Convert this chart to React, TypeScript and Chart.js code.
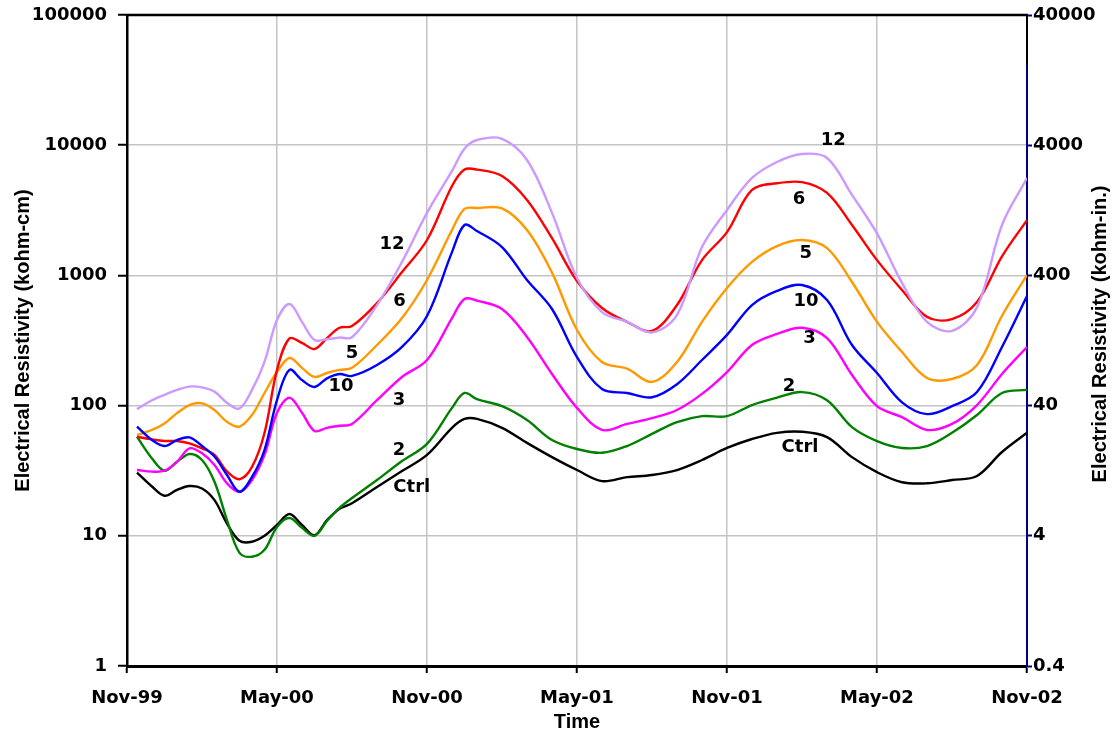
import React, { useEffect, useRef } from "react";
import { Chart, registerables } from "chart.js";

Chart.register(...registerables);

// Months since Nov-99
const months = [0.4, 1, 1.5, 2, 2.5, 3, 3.5, 4, 4.5, 5, 5.5, 6, 6.5, 7, 7.5, 8, 8.5, 9, 10, 11, 12, 13, 13.5, 14, 15, 16, 17, 18, 19, 20, 21, 22, 23, 24, 25, 26, 27, 28, 29, 30, 31, 32, 33, 34, 35, 36];

const tickMonths = [0, 6, 12, 18, 24, 30, 36];
const tickLabels = ["Nov-99", "May-00", "Nov-00", "May-01", "Nov-01", "May-02", "Nov-02"];
const leftTicks = [1, 10, 100, 1000, 10000, 100000];
const rightTicks = [0.4, 4, 40, 400, 4000, 40000];

// Electrical resistivity (kohm-cm)
const series12 = [94, 110, 121, 132, 140, 138, 128, 105, 95, 132, 217, 454, 603, 440, 319, 323, 333, 335, 592, 1270, 3020, 6340, 9400, 10960, 11200, 7700, 3020, 955, 523, 440, 365, 497, 1650, 3180, 5600, 7430, 8560, 7980, 4150, 2100, 875, 440, 375, 570, 2440, 5600];
const series10 = [69, 54.4, 49, 54.4, 57, 49, 40.6, 29.3, 21.8, 28.3, 45.6, 110, 188, 157, 139, 162, 175, 169, 205, 282, 488, 1510, 2440, 2190, 1650, 922, 552, 236, 134, 125, 116, 146, 224, 349, 592, 760, 844, 647, 292, 178, 106, 86, 99, 127, 282, 695];
const series6 = [57.6, 55, 53.5, 53.5, 51.3, 47, 41.8, 31.2, 27.2, 33.8, 61.6, 188, 328, 303, 272, 330, 396, 408, 612, 1060, 1870, 4860, 6500, 6500, 5800, 3800, 1930, 905, 562, 440, 375, 592, 1310, 2150, 4530, 5100, 5200, 4300, 2440, 1310, 773, 480, 462, 625, 1400, 2660];
const series5 = [59.5, 65, 73, 87.5, 101, 104, 92.5, 75, 69, 84.7, 125, 181, 232, 195, 166, 178, 188, 195, 292, 470, 922, 2230, 3240, 3290, 3270, 2230, 1050, 381, 216, 192, 152, 216, 440, 800, 1270, 1680, 1870, 1620, 890, 440, 258, 163, 160, 205, 490, 1007];
const series3 = [32, 31.1, 31.6, 37, 47, 43, 35, 25.3, 21.8, 26.8, 41.8, 88, 115, 88, 63.8, 67.5, 70, 72.3, 110, 166, 224, 470, 660, 640, 552, 337, 175, 96, 65, 72.3, 80, 92.5, 123, 181, 292, 355, 396, 330, 172, 99, 81.5, 65, 72.3, 101, 175, 282];
const series2 = [57.6, 39.3, 31.6, 37, 42.5, 38.2, 26, 13.2, 7.4, 6.9, 7.8, 11.7, 13.7, 11.5, 10, 13, 16.4, 19.5, 26.8, 37.5, 50.8, 96, 125, 112, 99, 77.5, 54.4, 46.4, 43.4, 48.9, 60.6, 74.6, 83, 83, 101, 115, 127, 110, 68.3, 53.4, 47.3, 48.9, 61.8, 84.7, 125, 132];
const seriesCtrl = [30.6, 23.9, 20.3, 22.5, 24.1, 23.1, 18.8, 12.4, 9.15, 9, 10, 12.1, 14.7, 12.1, 10.1, 13.2, 16.1, 17.8, 23.7, 31.4, 41.8, 67.5, 79, 79, 67.5, 51.7, 40.2, 32, 26.3, 28.2, 29.3, 32, 38.2, 47.3, 55.4, 61.8, 63, 57.3, 40.2, 30.8, 25.8, 25.3, 26.8, 28.8, 44, 61.8];

const seriesNames = ["12", "10", "6", "5", "3", "2", "Ctrl"];
const seriesColors = ["#CC99FF", "#0000FF", "#FF0000", "#FF9900", "#FF00FF", "#008000", "#000000"];
const seriesValues = [series12, series10, series6, series5, series3, series2, seriesCtrl];

// In-chart series labels (month, kohm-cm)
const labelTexts = ["12", "6", "5", "10", "3", "2", "Ctrl", "12", "6", "5", "10", "3", "2", "Ctrl"];
const labelMonths = [10.6, 10.9, 9.0, 8.56, 10.88, 10.88, 11.39, 28.25, 26.88, 27.15, 27.16, 27.3, 26.48, 26.92];
const labelValues = [1742, 628, 252, 140, 110, 45, 23.6, 10830, 3860, 1480, 628, 329, 140, 47.5];

const leftTitle = "Electrical Resistivity (kohm-cm)";
const rightTitle = "Electrical Resistivity (kohm-in.)";
const xTitle = "Time";

const tickFont = { family: "'DejaVu Sans'", weight: "bold" as const, size: 18 };

const decorPlugin = {
  id: "decor",
  afterDraw(chart: any) {
    const { ctx, chartArea, scales } = chart;
    const xs = scales.x;
    const ys = scales.y;
    ctx.save();
    // top frame line
    ctx.strokeStyle = "#000";
    ctx.lineWidth = 2.5;
    ctx.beginPath();
    ctx.moveTo(chartArea.left - 1, chartArea.top);
    ctx.lineTo(chartArea.right + 1, chartArea.top);
    ctx.stroke();
    ctx.lineWidth = 2;
    ctx.beginPath();
    ctx.moveTo(chartArea.right, chartArea.top);
    ctx.lineTo(chartArea.right, chartArea.top + 50);
    ctx.stroke();
    // series labels
    ctx.fillStyle = "#000";
    ctx.font = "bold 18px 'DejaVu Sans'";
    ctx.textAlign = "center";
    ctx.textBaseline = "middle";
    labelTexts.forEach((t, i) => {
      ctx.fillText(t, xs.getPixelForValue(labelMonths[i]), ys.getPixelForValue(labelValues[i]));
    });
    // vertical axis titles
    ctx.font = "bold 20px 'Liberation Sans'";
    ctx.save();
    ctx.translate(23, (chartArea.top + chartArea.bottom) / 2);
    ctx.rotate(-Math.PI / 2);
    ctx.fillText(leftTitle, 0, 0);
    ctx.restore();
    ctx.save();
    ctx.translate(1100, 334);
    ctx.rotate(-Math.PI / 2);
    ctx.fillText(rightTitle, 0, 0);
    ctx.restore();
    ctx.restore();
  },
};

export default function App() {
  const ref = useRef<HTMLCanvasElement>(null);
  useEffect(() => {
    const datasets = seriesNames.map((name, i) => ({
      label: name,
      data: months.map((m, j) => ({ x: m, y: seriesValues[i][j] })),
      borderColor: seriesColors[i],
      backgroundColor: seriesColors[i],
      borderWidth: 2.4,
      pointRadius: 0,
      tension: 0.35,
      fill: false,
      yAxisID: "y",
    }));
    const chart = new Chart(ref.current as HTMLCanvasElement, {
      type: "line",
      data: { datasets },
      plugins: [decorPlugin],
      options: {
        responsive: false,
        animation: false,
        layout: { padding: { top: 15, left: 0, right: 0, bottom: 0 } },
        plugins: { legend: { display: false }, tooltip: { enabled: false } },
        scales: {
          x: {
            type: "linear",
            position: "bottom",
            min: 0,
            max: 36,
            afterBuildTicks: (s: any) => {
              s.ticks = tickMonths.map((v) => ({ value: v }));
            },
            afterFit: (s: any) => {
              s.height = 72;
              s.paddingLeft = 0;
              s.paddingRight = 0;
            },
            ticks: {
              callback: (v: any) => tickLabels[tickMonths.indexOf(Number(v))],
              font: tickFont,
              color: "#000",
              padding: 15,
              maxRotation: 0,
              autoSkip: false,
            },
            grid: { color: "#c4c4c4", lineWidth: 1.5, tickLength: 7, tickColor: "#000", tickWidth: 2 },
            border: { color: "#000", width: 3 },
            title: {
              display: true,
              text: xTitle,
              font: { family: "'Liberation Sans'", weight: "bold", size: 20 },
              color: "#000",
              padding: { top: 0, bottom: 4 },
            },
          },
          y: {
            type: "logarithmic",
            position: "left",
            min: 1,
            max: 100000,
            afterBuildTicks: (s: any) => {
              s.ticks = leftTicks.map((v) => ({ value: v }));
            },
            afterFit: (s: any) => {
              s.width = 127;
              s.paddingTop = 0;
              s.paddingBottom = 0;
            },
            ticks: {
              callback: (v: any) => String(v),
              font: tickFont,
              color: "#000",
              padding: 11,
              autoSkip: false,
            },
            grid: { color: "#c4c4c4", lineWidth: 1.5, tickLength: 9, tickColor: "#000", tickWidth: 2 },
            border: { color: "#000", width: 2.5 },
          },
          y2: {
            type: "logarithmic",
            position: "right",
            min: 0.4,
            max: 40000,
            afterBuildTicks: (s: any) => {
              s.ticks = rightTicks.map((v) => ({ value: v }));
            },
            afterFit: (s: any) => {
              s.width = 90;
              s.paddingTop = 0;
              s.paddingBottom = 0;
            },
            ticks: {
              callback: (v: any) => String(v),
              font: tickFont,
              color: "#000",
              padding: 1,
              autoSkip: false,
            },
            grid: { drawOnChartArea: false, tickLength: 5, tickColor: "#000080", tickWidth: 2 },
            border: { color: "#000080", width: 2 },
          },
        },
      },
    } as any);
    return () => chart.destroy();
  }, []);
  return (
    <div style={{ position: "absolute", left: 0, top: 0, width: 1117, height: 738, background: "#fff" }}>
      <canvas ref={ref} width={1117} height={738} style={{ display: "block" }} />
    </div>
  );
}
